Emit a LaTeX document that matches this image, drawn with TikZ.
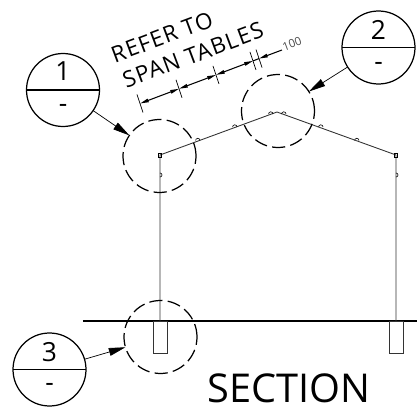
\documentclass[tikz,border=0pt]{standalone}
\usepackage{fontspec}
\setmainfont{Open Sans}
\newfontfamily\spacedfont[LetterSpace=5]{Open Sans}
\usetikzlibrary{arrows.meta}
\begin{document}
\begin{tikzpicture}[x=0.02cm, y=-0.02cm, line cap=butt,
    bubble/.style={draw, circle, minimum size=73*0.02cm, inner sep=0pt, outer sep=0pt, line width=0.7pt},
    detail/.style={draw, circle, dash pattern=on 7.5pt off 3pt, minimum size=73*0.02cm, inner sep=0pt, outer sep=0pt, line width=0.7pt},
    lead/.style={line width=0.4pt, -{Stealth[length=9.5pt, width=4.5pt, inset=0pt]}},
    dimline/.style={line width=0.6pt, {Stealth[length=5pt, width=2pt, inset=0pt]}-{Stealth[length=5pt, width=2pt, inset=0pt]}},
    frame/.style={line width=0.5pt, draw=black!80},
    bump/.style={line width=0.35pt},
    note/.style={font=\spacedfont\fontsize{12.8}{13}\selectfont, rotate=20.5, inner sep=0pt},
    tag/.style={font=\fontsize{15}{16}\selectfont, inner sep=0pt}]
\useasboundingbox (0,0) rectangle (417,409);

% frame
\draw[line width=1.2pt](83,321)--(417,321);
\draw[frame](160,321)--(160,155)--(277,112)--(396,155)--(396,321);
\draw[frame](153.5,321)rectangle(167,353);
\draw[frame](389,321)rectangle(403,353);
\draw[line width=0.4pt](158.5,153)rectangle(161.5,157);
\draw[line width=0.4pt](394.5,153)rectangle(397.5,157);
\draw[bump](200,140.5)arc(0:-180:2.2);
\draw[bump](237,127)arc(0:-180:2.2);
\draw[bump](273,114)arc(0:-180:2.2);
\draw[bump](286,114)arc(0:-180:2.2);
\draw[bump](323,127)arc(0:-180:2.2);
\draw[bump](359,140.5)arc(0:-180:2.2);
\draw[bump](160,177)arc(90:-90:2);
\draw[bump](396,177)arc(90:-90:2);

% details
\node[detail](detA) at (159.5,156){};
\node[detail](detB) at (278,111){};
\node[detail](detC) at (160.5,337){};

% bubbles
\node[bubble](bubA) at (63,90){};
\node[bubble](bubB) at (378.5,47.5){};
\node[bubble](bubC) at (49.5,369.5){};
\draw[line width=0.7pt](bubA.west)--(bubA.east);
\draw[line width=0.7pt](bubB.west)--(bubB.east);
\draw[line width=0.7pt](bubC.west)--(bubC.east);
\node[tag](numA) at (63,71){1};
\node[tag](numB) at (378.5,29.5){2};
\node[tag](numC) at (49.5,352){3};
\node[tag](dashA) at (63,108){-};
\node[tag](dashB) at (378.5,66){-};
\node[tag](dashC) at (49.5,387.5){-};
\draw[lead](bubA)--(detA);
\draw[lead](bubB)--(detB);
\draw[lead](bubC)--(detC);

% span dimension
\coordinate(tickA) at (140,103.5);
\coordinate(tickB) at (179,88.8);
\coordinate(tickC) at (216,74.9);
\coordinate(tickD) at (253,60.9);
\coordinate(tickE) at (259,58.6);
\coordinate(dimEnd) at (282,50);
\draw[dimline](tickA)--(tickB);
\draw[dimline](tickB)--(tickC);
\draw[dimline](tickC)--(tickD);
\draw[line width=0.6pt](tickD)--(tickE);
\draw[line width=0.6pt, -{Stealth[length=5pt, width=2pt, inset=0pt]}](dimEnd)--(tickE);
\draw[line width=0.4pt](tickA)++(-3,-9)--++(6,18);
\draw[line width=0.4pt](tickB)++(-3,-9)--++(6,18);
\draw[line width=0.4pt](tickC)++(-3,-9)--++(6,18);
\draw[line width=0.4pt](tickD)++(-3,-9)--++(6,18);
\draw[line width=0.4pt](tickE)++(-3,-9)--++(6,18);
\node[font=\fontsize{6.5}{7}\selectfont, rotate=20.5, inner sep=0pt, text=black!70](size) at (292,44){100};

\node[note](noteA) at (162,37){REFER TO};
\node[note](noteB) at (193,55){SPAN TABLES};
\node[font=\fontsize{22.6}{24}\selectfont, inner sep=0pt](title) at (289,388){SECTION};
\end{tikzpicture}
\end{document}
